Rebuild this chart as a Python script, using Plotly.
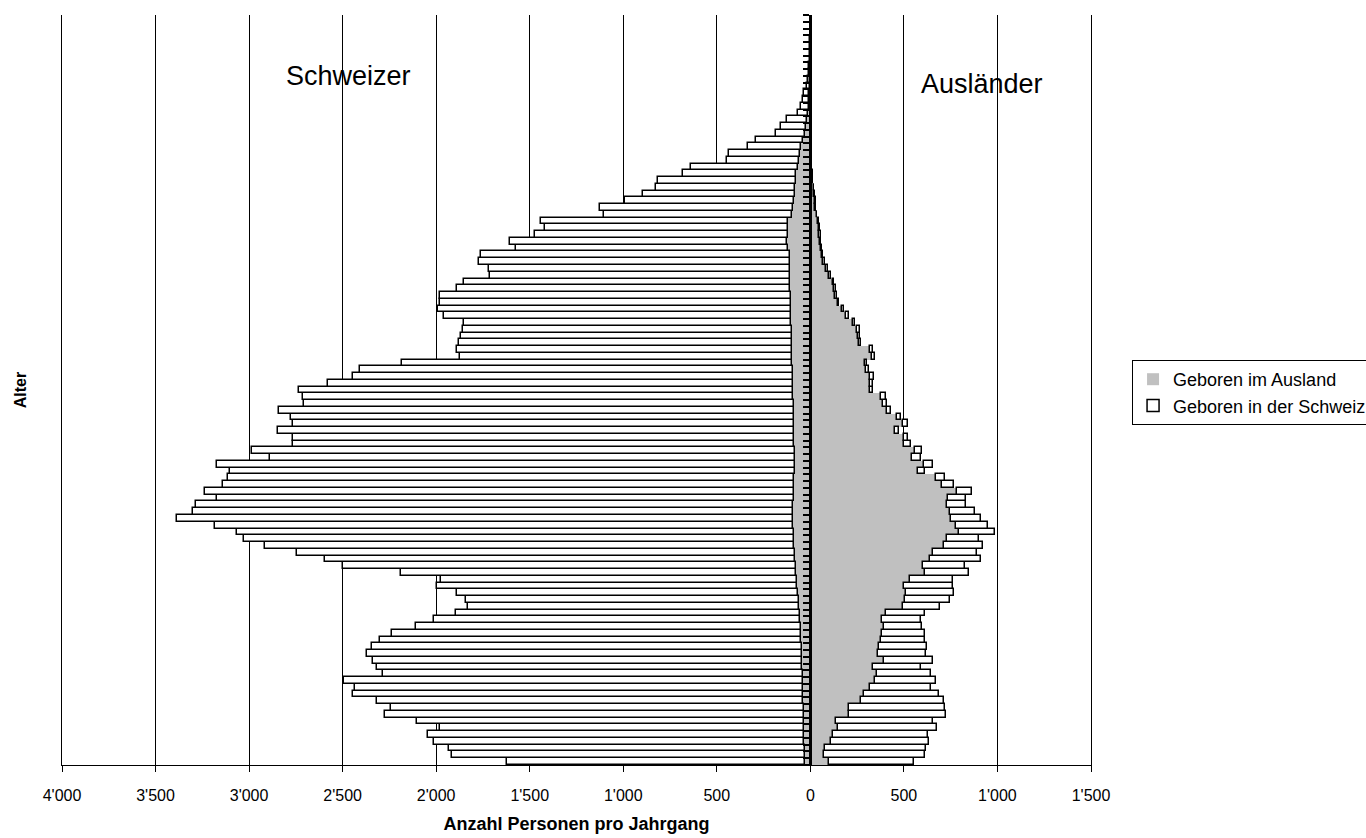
import plotly.graph_objects as go

# Ages (Alter) 0..110
alter = list(range(0, 111))

# Schweizer (left side)
schweizer_geb_ausland = [30, 30, 30, 32, 32, 33, 34, 35, 36, 37,
                         38, 40, 40, 42, 43, 45, 46, 47, 48, 50,
                         52, 55, 58, 60, 63, 66, 70, 72, 75, 78,
                         80, 82, 85, 88, 90, 92, 95, 95, 92, 90,
                         88, 86, 85, 84, 84, 83, 84, 85, 86, 87,
                         88, 89, 90, 90, 91, 92, 93, 94, 95, 96,
                         97, 98, 99, 100, 100, 101, 102, 104, 105, 106,
                         107, 108, 108, 110, 110, 107, 118, 125, 118, 118,
                         120, 98, 91, 86, 84, 80, 78, 75, 68, 62,
                         57, 50, 39, 27, 22, 18, 12, 9, 7, 5,
                         4, 3, 2, 1, 1, 0, 0, 0, 0, 0, 0]
schweizer_geb_schweiz = [1592, 1888, 1904, 1982, 2013, 1949, 2069, 2238, 2208, 2279,
                         2404, 2393, 2454, 2242, 2271, 2292, 2323, 2294, 2253, 2184,
                         2057, 1956, 1837, 1769, 1777, 1824, 1928, 1900, 2113, 2418,
                         2514, 2663, 2830, 2941, 2976, 3088, 3288, 3203, 3190, 3083,
                         3147, 3051, 3026, 3018, 3089, 2805, 2898, 2683, 2681, 2760,
                         2680, 2688, 2751, 2616, 2620, 2641, 2486, 2348, 2312, 2086,
                         1778, 1792, 1778, 1765, 1758, 1748, 1854, 1887, 1874, 1876,
                         1781, 1742, 1603, 1607, 1662, 1655, 1454, 1478, 1353, 1301,
                         1319, 1005, 1036, 905, 811, 745, 737, 608, 570, 386,
                         378, 285, 254, 156, 136, 105, 56, 43, 34, 27,
                         16, 11, 7, 5, 3, 2, 1, 1, 0, 0, 0]

# Ausländer (right side)
auslaender_geb_ausland = [98, 71, 80, 112, 119, 148, 137, 209, 207, 269,
                          285, 319, 348, 358, 337, 392, 362, 367, 378, 385,
                          392, 382, 405, 496, 506, 513, 501, 531, 615, 603,
                          640, 654, 713, 731, 792, 779, 751, 744, 731, 736,
                          785, 704, 669, 574, 608, 544, 561, 503, 503, 451,
                          496, 464, 410, 387, 378, 317, 321, 317, 300, 291,
                          330, 317, 260, 255, 250, 228, 193, 171, 146, 134,
                          125, 119, 102, 86, 68, 62, 55, 51, 48, 45,
                          40, 33, 27, 24, 22, 17, 13, 10, 8, 6,
                          5, 4, 3, 2, 2, 1, 1, 1, 0, 0,
                          0, 0, 0, 0, 0, 0, 0, 0, 0, 0, 0]
auslaender_geb_schweiz = [455, 544, 539, 521, 509, 528, 521, 517, 510, 444,
                          403, 325, 321, 287, 255, 262, 257, 259, 235, 226,
                          205, 210, 210, 199, 243, 257, 264, 232, 234, 223,
                          273, 234, 212, 173, 194, 171, 160, 137, 102, 98,
                          80, 66, 53, 39, 45, 48, 35, 35, 21, 21,
                          25, 19, 23, 23, 27, 16, 14, 25, 14, 12,
                          14, 16, 11, 12, 14, 11, 14, 9, 9, 9,
                          11, 9, 9, 8, 9, 8, 7, 7, 7, 7,
                          7, 5, 5, 4, 4, 3, 3, 2, 2, 2,
                          1, 1, 1, 1, 0, 1, 0, 0, 0, 0,
                          0, 0, 0, 0, 0, 0, 0, 0, 0, 0, 0]

x_tickvals = [-4000, -3500, -3000, -2500, -2000, -1500, -1000, -500, 0, 500, 1000, 1500]
x_ticktext = ["4'000", "3'500", "3'000", "2'500", "2'000", "1'500", "1'000", "500",
              "0", "500", "1'000", "1'500"]

legend_names = ["Geboren im Ausland", "Geboren in der Schweiz"]
side_labels = ["Schweizer", "Ausländer"]

FONT = "Liberation Sans, Arial, Helvetica, sans-serif"
GRAY = "#C0C0C0"
X_MIN, X_MAX = -4000, 1500


def nz(vals, sign=1):
    return [sign * v if v > 0 else None for v in vals]


fig = go.Figure()
fig.add_trace(go.Bar(y=alter, x=nz(schweizer_geb_ausland, -1), orientation="h",
                     name=legend_names[0], legendgroup="aus",
                     marker=dict(color=GRAY, line=dict(width=0))))
fig.add_trace(go.Bar(y=alter, x=nz(schweizer_geb_schweiz, -1), orientation="h",
                     name=legend_names[1], legendgroup="ch",
                     marker=dict(color="white", line=dict(color="black", width=1.5))))
fig.add_trace(go.Bar(y=alter, x=nz(auslaender_geb_ausland), orientation="h",
                     name=legend_names[0], legendgroup="aus", showlegend=False,
                     marker=dict(color=GRAY, line=dict(width=0))))
fig.add_trace(go.Bar(y=alter, x=nz(auslaender_geb_schweiz), orientation="h",
                     name=legend_names[1], legendgroup="ch", showlegend=False,
                     marker=dict(color="white", line=dict(color="black", width=1.5))))
# placeholder trace so the category axis at x = 0 is drawn
fig.add_trace(go.Scatter(x=[None], y=[None], yaxis="y2", showlegend=False,
                         hoverinfo="skip"))

y_range = [alter[0] - 0.5, alter[-1] + 0.5]
boundaries = [a - 0.5 for a in alter] + [alter[-1] + 0.5]
zero_pos = (0 - X_MIN) / (X_MAX - X_MIN)

fig.update_layout(
    width=1366, height=838,
    margin=dict(l=62, r=275, t=15, b=73, autoexpand=False),
    barmode="relative", bargap=0,
    plot_bgcolor="white", paper_bgcolor="white",
    font=dict(family=FONT, size=16, color="black"),
    showlegend=True,
    legend=dict(x=1.0399, y=0.54, xanchor="left", yanchor="top",
                bgcolor="white", bordercolor="black", borderwidth=1,
                font=dict(family=FONT, size=18, color="black"),
                traceorder="normal", itemwidth=30, tracegroupgap=0),
    xaxis=dict(range=[X_MIN, X_MAX], tickvals=x_tickvals, ticktext=x_ticktext,
               showgrid=True, gridcolor="black", gridwidth=1,
               ticks="outside", ticklen=6, tickcolor="black", tickwidth=1,
               showline=True, linecolor="black", linewidth=1,
               zeroline=False, ticklabelstandoff=10,
               tickfont=dict(family=FONT, size=16),
               title=dict(text="<b>Anzahl Personen pro Jahrgang</b>",
                          font=dict(family=FONT, size=18), standoff=14)),
    yaxis=dict(range=y_range, showticklabels=False, showgrid=False, zeroline=False,
               ticks="", showline=True, mirror=True, linecolor="black", linewidth=1,
               title=dict(text="<b>Alter</b>", font=dict(family=FONT, size=16),
                          standoff=30)),
    yaxis2=dict(range=y_range, overlaying="y", anchor="free", position=zero_pos,
                side="left", showline=True, linecolor="black", linewidth=3,
                ticks="outside", tickvals=boundaries, ticklen=6, tickwidth=2,
                tickcolor="black", showticklabels=False, showgrid=False,
                zeroline=False),
    annotations=[
        dict(text=side_labels[0], x=-2470, y=101.5, xref="x", yref="y",
             showarrow=False, font=dict(family=FONT, size=27, color="black")),
        dict(text=side_labels[1], x=915, y=100.3, xref="x", yref="y",
             showarrow=False, font=dict(family=FONT, size=27, color="black")),
    ],
)

fig.write_html("out.html", config={"displayModeBar": False},
               post_script="document.body.style.margin='0';document.body.style.overflow='hidden';")
